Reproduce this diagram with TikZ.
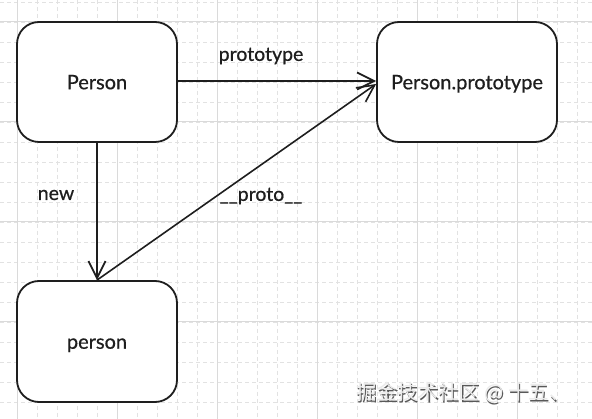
\documentclass[tikz,border=0pt]{standalone}
\usepackage{fontspec}
\setmainfont{Lato}
\newfontfamily\lblfont[FakeBold=0.6]{Lato}
\newfontfamily\cjkfont{Noto Sans CJK SC}
\usetikzlibrary{arrows.meta}
\definecolor{gridmajor}{HTML}{DADADA}
\definecolor{gridminor}{HTML}{E2E2E2}
\definecolor{ink}{HTML}{1E1E1E}
\tikzset{
  box/.style={draw=ink, line width=1.8pt, rounded corners=22pt, minimum width=160pt, minimum height=120pt, inner sep=0pt, text height=14.5pt, text depth=0pt, font=\lblfont\fontsize{20pt}{22pt}\selectfont, text=ink},
  conn/.style={draw=ink, line width=2pt, -{Straight Barb[length=17pt,width=17pt,line width=1.8pt]}},
  thinconn/.style={draw=ink, line width=1.6pt, -{Straight Barb[length=17pt,width=17pt,line width=1.6pt]}},
  lbl/.style={font=\lblfont\fontsize{19.5pt}{22pt}\selectfont, text=ink, inner sep=0pt},
  minorline/.style={draw=gridminor, line width=0.8pt, dash pattern=on 4pt off 3pt},
  majorline/.style={draw=gridmajor, line width=1pt},
}
\begin{document}
\begin{tikzpicture}[x=1pt,y=-1pt]
\useasboundingbox (0,0) rectangle (592,419);
\fill[white] (0,0) rectangle (592,419);
% grid
\foreach \i in {-1,...,29} {
  \draw[minorline] ({17+20*\i},0) -- ({17+20*\i},419);
}
\foreach \j in {-1,...,20} {
  \draw[minorline] (0,{22+20*\j}) -- (592,{22+20*\j});
}
\foreach \i in {0,...,5} {
  \draw[majorline] ({17+100*\i},0) -- ({17+100*\i},419);
}
\foreach \j in {0,...,3} {
  \draw[majorline] (0,{22+100*\j}) -- (592,{22+100*\j});
}
% boxes
\node[box, fill=white] (P) at (97,82) {Person};
\node[box, fill=white, minimum width=180pt] (PP) at (467,82) {Person.prototype};
\node[box, fill=white, minimum height=121pt] (p) at (97,341.5) {person};
% connectors
\draw[conn] ([yshift=1pt]P.east) -- ([yshift=1pt]PP.west);
\draw[conn] (P.south) -- (p.north);
\draw[thinconn] (p.north) -- ([yshift=-2pt]PP.west);
% labels
\node[lbl] (lproto) at (261,56) {prototype};
\node[lbl] (lnew) at (56,195) {new};
\node[lbl] (l__) at (261,196) {\_\_proto\_\_};
% watermark
\node[font=\cjkfont\fontsize{20.5pt}{22pt}\selectfont, text=black!65, inner sep=0pt] (wms) at (464.2,394.2) {掘金技术社区 @ 十五、};
\node[font=\cjkfont\fontsize{20.5pt}{22pt}\selectfont, text=white!92!black, inner sep=0pt] (wm) at (463,393) {掘金技术社区 @ 十五、};
\end{tikzpicture}
\end{document}
